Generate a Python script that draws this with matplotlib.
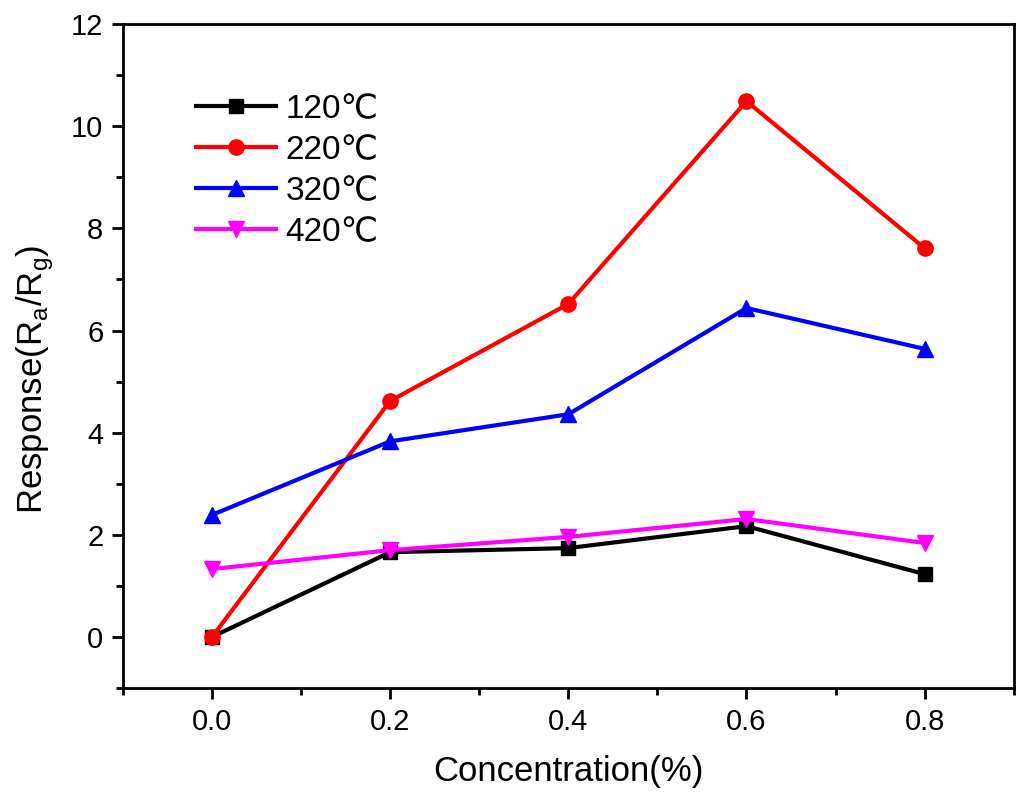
import matplotlib.pyplot as plt
from matplotlib.ticker import MultipleLocator

plt.rcParams['font.family'] = ['Liberation Sans', 'DejaVu Sans']

# Concentration (%)
conc = [0.0, 0.2, 0.4, 0.6, 0.8]

# Response values
resp_120 = [0.0, 1.66, 1.74, 2.17, 1.23]
resp_220 = [0.0, 4.62, 6.52, 10.49, 7.61]
resp_320 = [2.39, 3.83, 4.36, 6.44, 5.64]
resp_420 = [1.33, 1.70, 1.96, 2.31, 1.84]

labels = ['120℃', '220℃', '320℃', '420℃']

fig = plt.figure(figsize=(10.24, 8.01), dpi=100)
ax = fig.add_axes([0.120, 0.141, 0.870, 0.829])

ax.plot(conc, resp_120, color='black', marker='s', lw=3, ms=10, label=labels[0])
ax.plot(conc, resp_220, color='red', marker='o', lw=3, ms=11, label=labels[1])
ax.plot(conc, resp_320, color='blue', marker='^', lw=3, ms=11, label=labels[2])
ax.plot(conc, resp_420, color='magenta', marker='v', lw=3, ms=11, label=labels[3])

ax.set_xlim(-0.1, 0.9)
ax.set_ylim(-1, 12)
ax.xaxis.set_minor_locator(MultipleLocator(0.1))
ax.yaxis.set_major_locator(MultipleLocator(2))
ax.yaxis.set_minor_locator(MultipleLocator(1))
ax.set_xticks([0.0, 0.2, 0.4, 0.6, 0.8])
ax.set_xticklabels(['0.0', '0.2', '0.4', '0.6', '0.8'])

ax.tick_params(which='both', direction='out', width=2, top=False, right=False, labelsize=21, pad=6)
ax.tick_params(which='major', length=8)
ax.tick_params(which='minor', length=5)
for sp in ax.spines.values():
    sp.set_linewidth(2)

ax.set_xlabel('Concentration(%)', fontsize=25, labelpad=14)
ax.set_ylabel(r'Response(R$_\mathregular{a}$/R$_\mathregular{g}$)', fontsize=25)
ax.yaxis.set_label_coords(-0.075, 0.465)

ax.legend(loc='upper left', bbox_to_anchor=(0.048, 0.94), frameon=False, fontsize=24,
          handlelength=2.4, handletextpad=0.3, labelspacing=0.3)

fig.savefig('out.png', dpi=100)
